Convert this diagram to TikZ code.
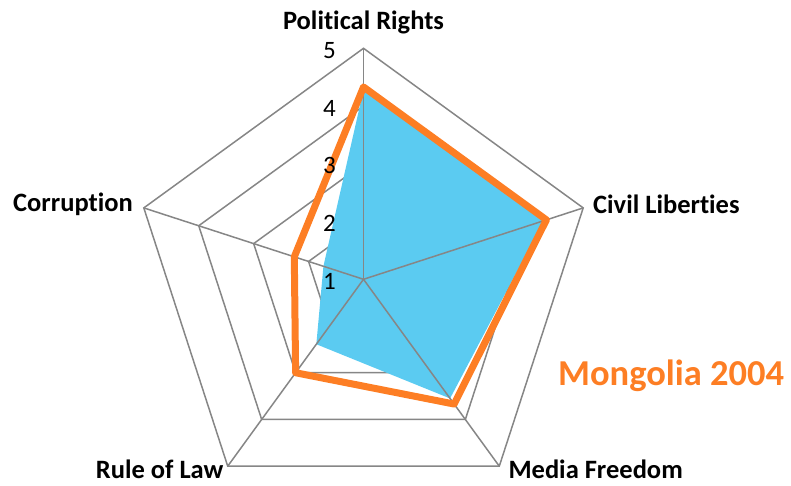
\documentclass[tikz,border=0pt]{standalone}
\usepackage{fontspec}
\setmainfont{Carlito}[Ligatures=NoCommon]
\definecolor{gridgray}{RGB}{134,134,134}
\definecolor{chartblue}{RGB}{91,203,241}
\definecolor{chartorange}{RGB}{253,126,36}
\tikzset{
  gridline/.style={draw=gridgray, line width=1.5pt},
  axislabel/.style={font=\fontsize{26.5}{28}\selectfont\bfseries, inner sep=0pt},
  ticklabel/.style={font=\fontsize{25}{27}\selectfont, inner sep=0pt, anchor=base east},
}
\begin{document}
\begin{tikzpicture}[x=1pt,y=1pt]
    \useasboundingbox (0,0) rectangle (791,485);

    \begin{scope}[shift={(363.5,205.7)}]
    % grid pentagons
    \foreach \r in {57.75,115.5,173.25,231}
    \draw[gridline] (90:\r) -- (18:\r) -- (-54:\r) -- (-126:\r) -- (162:\r) -- cycle;

    % first series
    \fill[chartblue] (90:{(4.28-1)*57.75}) -- (18:{(4.28-1)*57.75}) -- (-54:{(3.55-1)*57.75})
        -- (-126:{(2.39-1)*57.75}) -- (162:{(1.73-1)*57.75}) -- cycle;

    % spokes
    \foreach \a in {90,18,-54,-126,162}
    \draw[gridline] (0,0) -- (\a:231);

    % second series
    \draw[chartorange, line width=7pt, line join=round] (90:{(4.33-1)*57.75}) -- (18:{(4.33-1)*57.75})
        -- (-54:{(3.67-1)*57.75}) -- (-126:{(3.0-1)*57.75}) -- (162:{(2.26-1)*57.75}) -- cycle;
    \end{scope}

    \foreach \v in {1,...,5}
    \node[ticklabel] (tick\v) at (336,{195.7+(\v-1)*57.75}) {\v};

    \node[axislabel, anchor=base] (pr) at (363.5,455.7) {Political Rights};
    \node[axislabel, anchor=base west] (cl) at (593,271.7) {Civil Liberties};
    \node[axislabel, anchor=base east] (cor) at (133,273.3) {Corruption};
    \node[axislabel, anchor=base west] (rl) at (95.7,7) {Rule of Law};
    \node[axislabel, anchor=base west] (mf) at (508.3,7) {Media Freedom};

    \node[font=\fontsize{36.5}{38}\selectfont\bfseries, text=chartorange, inner sep=0pt, anchor=base west] (title) at (558,100) {Mongolia 2004};

\end{tikzpicture}
\end{document}
